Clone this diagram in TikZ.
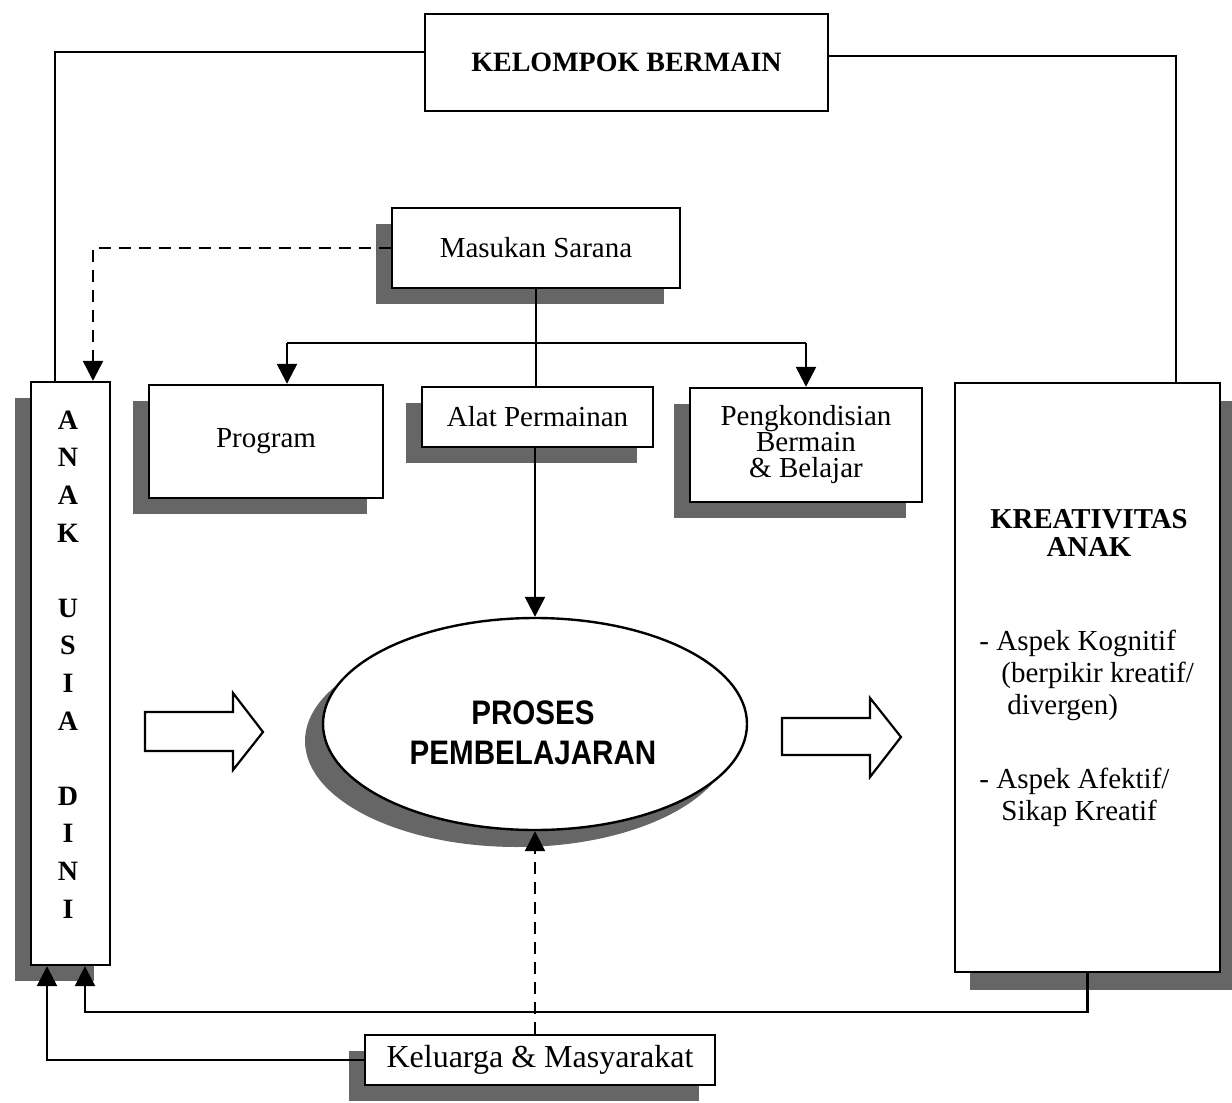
\documentclass[tikz,border=0pt]{standalone}
\usepackage{fontspec}
\setmainfont{Liberation Serif}
\newfontfamily\narrowsans[FakeStretch=0.87]{Liberation Sans}
\usetikzlibrary{shadows,arrows.meta,shapes.geometric}
\begin{document}
\begin{tikzpicture}[x=0.5pt,y=-0.5pt,
  ln/.style={line width=1.2pt},
  arr/.style={ln,-{Triangle[length=10pt,width=10pt]}},
  dsh/.style={dash pattern=on 6pt off 4pt},
  box/.style={draw,line width=1.2pt,fill=white,inner sep=0pt,align=center,font=\fontsize{14.5}{17}\selectfont},
  shl/.style={drop shadow={opacity=1,fill=black!60,shadow xshift=-8pt,shadow yshift=-8pt}},
  shr/.style={drop shadow={opacity=1,fill=black!60,shadow xshift=7.5pt,shadow yshift=-9pt}},
  txt/.style={inner sep=0pt,align=center}]
\useasboundingbox (0,0) rectangle (1232,1103);

% boxes
\node[box,minimum width=201.5pt,minimum height=48.5pt,font=\bfseries\fontsize{14}{17}\selectfont] (kb) at (626.5,62.5) {KELOMPOK BERMAIN};
\node[box,shl,minimum width=144pt,minimum height=40pt] (ms) at (536,248) {Masukan Sarana};
\node[box,shl,minimum width=117pt,minimum height=56.5pt] (prog) at (266,441.5) {Program};
\node[box,shl,minimum width=115.5pt,minimum height=30pt] (alat) at (537.5,417) {Alat Permainan};
\node[box,shl,minimum width=116pt,minimum height=57pt,font=\fontsize{14.5}{13}\selectfont] (peng) at (806,445) {Pengkondisian\\Bermain\\\& Belajar};
\node[box,shl,minimum width=39.5pt,minimum height=291.5pt] (anak) at (70.5,673.5) {};
\node[box,shr,minimum width=132.5pt,minimum height=294.5pt] (kr) at (1087.5,677.5) {};
\node[box,shl,ellipse,minimum width=212pt,minimum height=106pt,drop shadow={opacity=1,fill=black!60,shadow xshift=-9pt,shadow yshift=-8.5pt}] (el) at (535,724) {};
\node[box,shl,minimum width=175pt,minimum height=25pt,font=\fontsize{16}{19}\selectfont] (kel) at (540,1060) {Keluarga \& Masyarakat};

% texts inside boxes
\node[txt,font=\bfseries\fontsize{14}{18.8}\selectfont] (anaktxt) at (68,664.5)
  {A\\N\\A\\K\\[18.8pt]U\\S\\I\\A\\[18.8pt]D\\I\\N\\I};
\node[txt,font=\bfseries\fontsize{14.4}{14}\selectfont] (krt) at (1089,533) {KREATIVITAS\\ANAK};
\node[txt,align=left,anchor=west,font=\fontsize{14.5}{16}\selectfont] (asp) at (979,728)
  {- Aspek Kognitif\\\hspace*{11pt}(berpikir kreatif/\\\hspace*{14pt}divergen)\\[21pt]- Aspek Afektif/\\\hspace*{11pt}Sikap Kreatif};
\node[txt,font=\narrowsans\bfseries\fontsize{17}{20}\selectfont] (prost) at (533,733) {PROSES\\PEMBELAJARAN};

% block arrows
\draw[line width=1.1pt,fill=white] (145,712) -- (233,712) -- (233,693) -- (263,732) -- (233,770) -- (233,751) -- (145,751) -- cycle;
\draw[line width=1.1pt,fill=white] (782,718) -- (870,718) -- (870,698) -- (901,737) -- (870,777) -- (870,755) -- (782,755) -- cycle;

% connectors
\coordinate (tl) at (55,52);
\coordinate (tr) at (1176,56);
\draw[ln] (kb.west |- tl) -- (tl) -- (tl |- anak.north);
\draw[ln] (kb.east |- tr) -- (tr) -- (tr |- kr.north);

\coordinate (dl) at (93,248);
\draw[arr,dsh] (ms.west) -- (dl) -- (dl |- anak.north);

\coordinate (br) at (536,343);
\coordinate (pa) at (287,343);
\draw[ln] (ms.south) -- (ms.south |- alat.north);
\draw[ln] (pa) -- (peng.north |- br);
\draw[arr] (pa) -- (pa |- prog.north);
\draw[arr] (peng.north |- br) -- (peng.north);
\draw[arr] (alat.south -| el.north) -- (el.north);

\draw[arr,dsh] (el.south |- kel.north) -- (el.south);

\coordinate (lb) at (85,1012);
\draw[arr] (kr.south) -- (kr.south |- lb) -- (lb) -- (lb |- anak.south);
\coordinate (lo) at (47,1060);
\draw[arr] (kel.west) -- (lo) -- (lo |- anak.south);
\end{tikzpicture}
\end{document}
